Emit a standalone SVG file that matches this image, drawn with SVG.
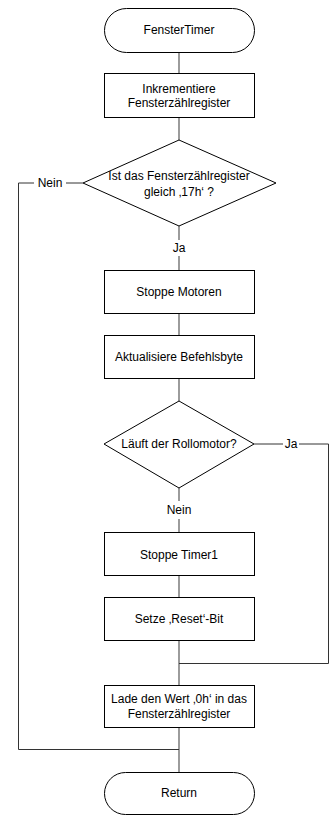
<svg xmlns="http://www.w3.org/2000/svg" width="329" height="816" viewBox="0 0 329 816">
  <style>
    .shape { fill: #ffffff; stroke: #000000; stroke-width: 1; }
    .wire { fill: none; stroke: #333333; stroke-width: 1; }
    .stem { fill: none; stroke: #666666; stroke-width: 1.3; }
    text { font-family: "Liberation Sans", Arial, sans-serif; font-size: 12px; fill: #000000; text-anchor: middle; dominant-baseline: central; }
  </style>
  <rect width="329" height="816" fill="#ffffff"/>

  <!-- connectors -->
  <g id="connectors">
    <line class="stem" x1="179" y1="52" x2="179" y2="73"/>
    <line class="stem" x1="179" y1="117" x2="179" y2="140"/>
    <line class="stem" x1="179" y1="226" x2="179" y2="240"/>
    <line class="stem" x1="179" y1="256" x2="179" y2="270"/>
    <line class="stem" x1="179" y1="313" x2="179" y2="335"/>
    <line class="stem" x1="179" y1="379" x2="179" y2="401"/>
    <line class="stem" x1="179" y1="488" x2="179" y2="501"/>
    <line class="stem" x1="179" y1="519" x2="179" y2="532"/>
    <line class="stem" x1="179" y1="575" x2="179" y2="597"/>
    <line class="stem" x1="179" y1="640" x2="179" y2="685"/>
    <line class="stem" x1="179" y1="727" x2="179" y2="772"/>
    <!-- Nein branch of first decision -->
    <polyline class="wire" points="83,183 66,183"/>
    <polyline class="wire" points="34,183 18.5,183 18.5,749.5 179,749.5"/>
    <!-- Ja branch of second decision -->
    <polyline class="wire" points="254,444 283,444"/>
    <polyline class="wire" points="299,444 328.5,444 328.5,663.5 179,663.5"/>
  </g>

  <!-- connector labels -->
  <g id="labels">
    <text x="50" y="183">Nein</text>
    <text x="179" y="248">Ja</text>
    <text x="291" y="444">Ja</text>
    <text x="179" y="510">Nein</text>
  </g>

  <g id="start">
    <rect class="shape" x="104.5" y="8.5" width="150" height="44" rx="22" ry="22"/>
    <text x="179" y="30">FensterTimer</text>
  </g>

  <g id="increment">
    <rect class="shape" x="104.5" y="73.5" width="150" height="44"/>
    <text x="179" y="89">Inkrementiere</text>
    <text x="179" y="103">Fensterzählregister</text>
  </g>

  <g id="check-count">
    <polygon class="shape" points="179,140 276,183 179,226 83,183"/>
    <text x="179" y="176">Ist das Fensterzählregister</text>
    <text x="179" y="192">gleich ‚17h‘ ?</text>
  </g>

  <g id="stop-motors">
    <rect class="shape" x="104.5" y="270.5" width="150" height="43"/>
    <text x="179" y="292">Stoppe Motoren</text>
  </g>

  <g id="update-command">
    <rect class="shape" x="104.5" y="335.5" width="150" height="43"/>
    <text x="179" y="357">Aktualisiere Befehlsbyte</text>
  </g>

  <g id="check-roller">
    <polygon class="shape" points="179,401 254,444 179,488 104,444"/>
    <text x="179" y="444">Läuft der Rollomotor?</text>
  </g>

  <g id="stop-timer">
    <rect class="shape" x="104.5" y="532.5" width="150" height="43"/>
    <text x="179" y="555">Stoppe Timer1</text>
  </g>

  <g id="set-reset">
    <rect class="shape" x="104.5" y="597.5" width="150" height="43"/>
    <text x="179" y="619">Setze ‚Reset‘-Bit</text>
  </g>

  <g id="clear-count">
    <rect class="shape" x="104.5" y="685.5" width="150" height="42"/>
    <text x="179" y="699">Lade den Wert ‚0h‘ in das</text>
    <text x="179" y="714">Fensterzählregister</text>
  </g>

  <g id="return">
    <rect class="shape" x="104.5" y="772.5" width="150" height="42" rx="21" ry="21"/>
    <text x="179" y="793">Return</text>
  </g>
</svg>
